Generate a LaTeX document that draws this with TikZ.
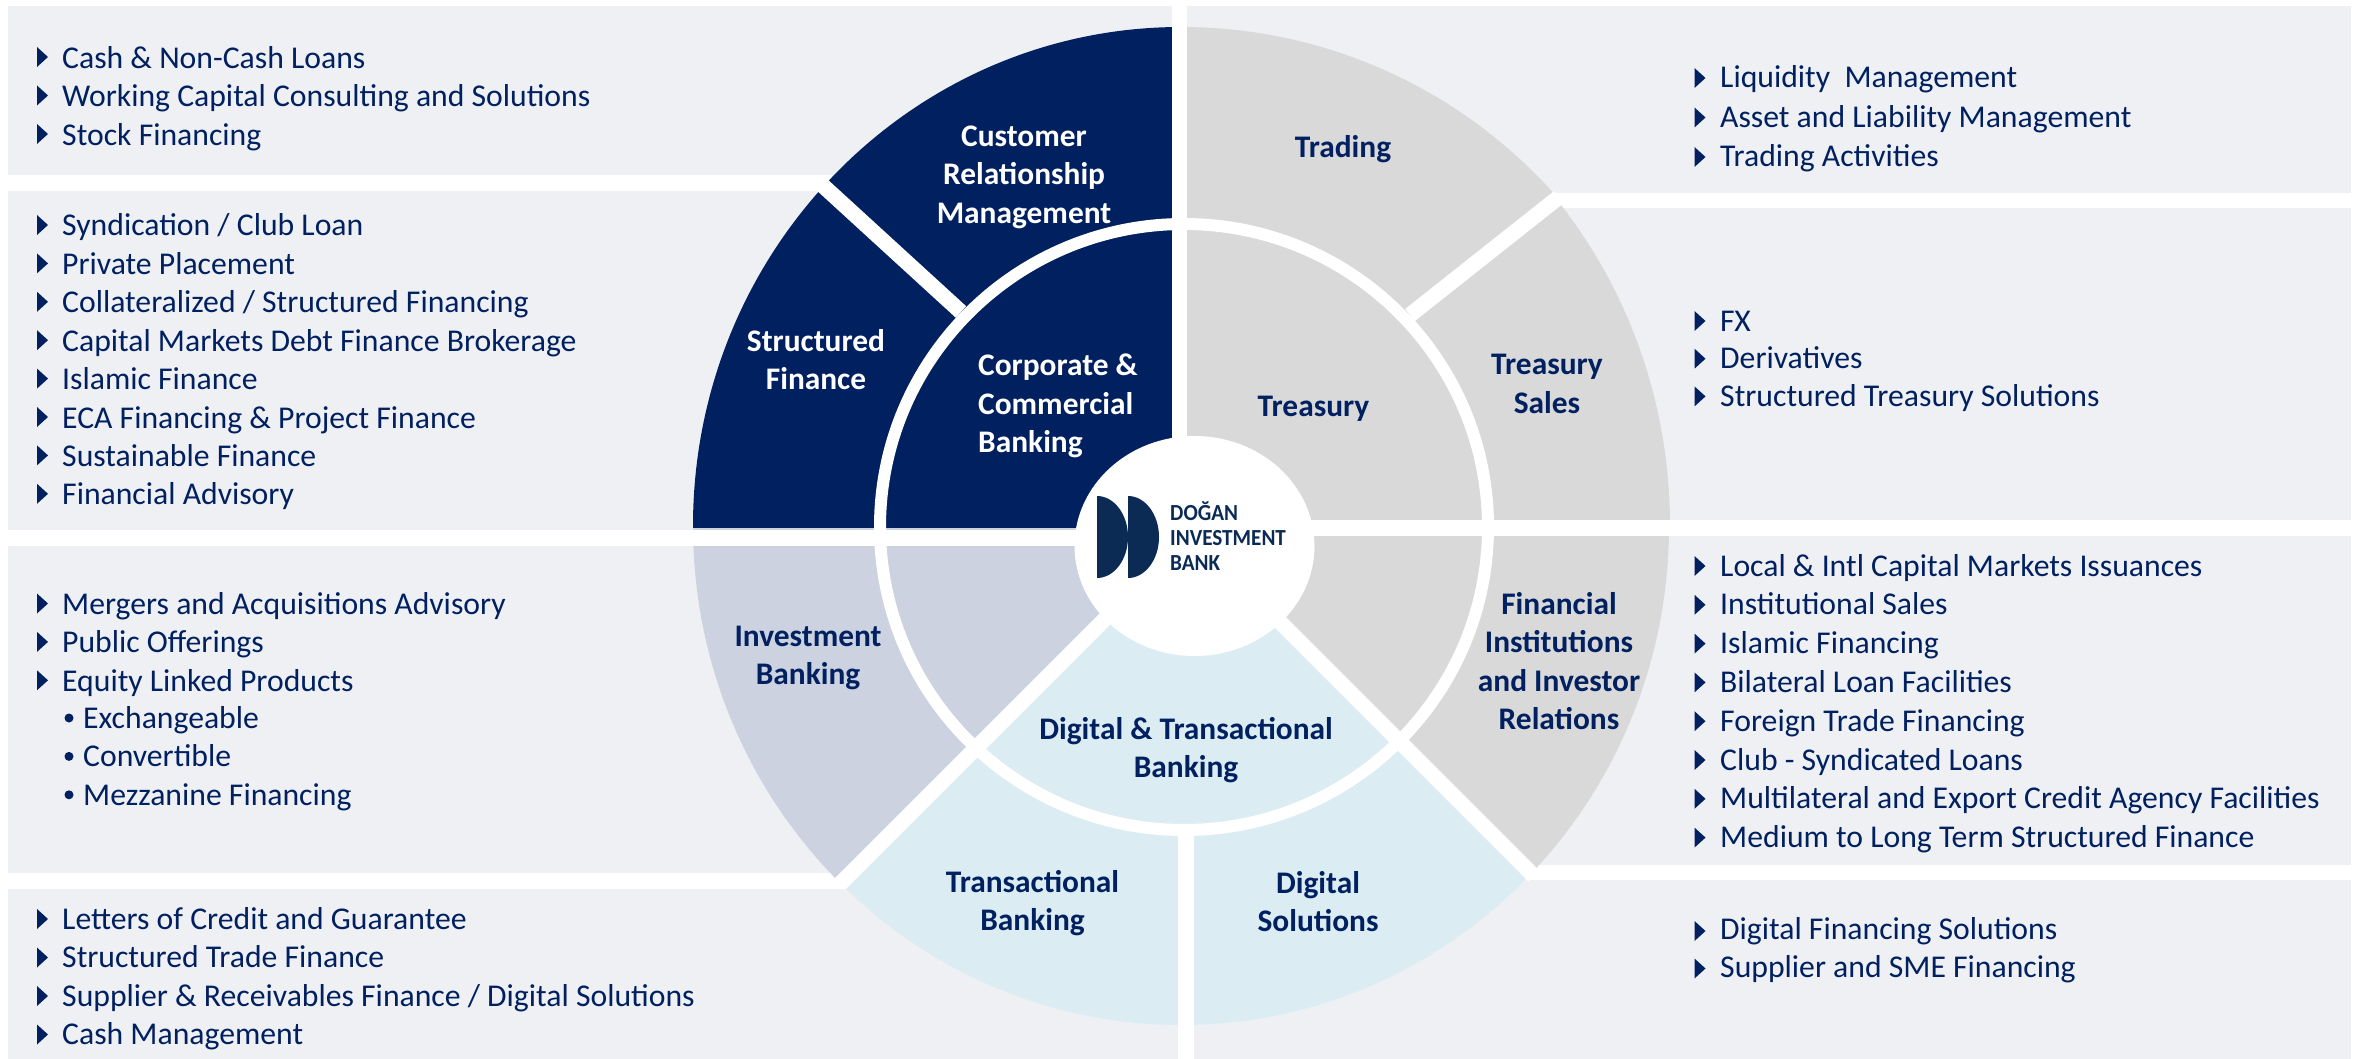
\documentclass[tikz,border=0pt]{standalone}
\usepackage{fontspec}
\setmainfont{Carlito}
\newfontfamily\logofont[FakeStretch=0.92]{Carlito}
\usepackage{tikz}
\definecolor{navy}{HTML}{002060}
\definecolor{logoblue}{HTML}{0B2B55}
\definecolor{panelgray}{HTML}{EFF0F4}
\definecolor{sectorgray}{HTML}{D9D9D9}
\definecolor{sectorslate}{HTML}{CCD2DF}
\definecolor{sectorsky}{HTML}{DBEDF3}
\tikzset{
%%%%%%%%%%  Node styles
itemtext/.style={anchor=west, inner sep=0pt, text=navy, text height=26pt, text depth=6pt,
                 font=\fontsize{31.7}{38.4}\selectfont},
sector_label/.style={inner sep=0pt, align=center, text=navy,
                 font=\fontsize{31.4}{38.4}\selectfont\bfseries},
logotext/.style={anchor=base west, inner sep=0pt, text=logoblue,
                 font=\fontsize{23}{25}\logofont\bfseries},
%%%%%%% Fill styles %%%%%%%%%%%%%%%
panel/.style={fill=panelgray},
%%%% white gaps of the wheel
spoke/.style={draw=white, line width=15.5pt},
%%%%%%% Small marks in the lists
pointer/.pic={\fill[navy] (-5.5,-10) -- (5.5,0) -- (-5.5,10) -- cycle;},
subdot/.pic={\fill[navy] (0,0) circle (4.5pt);},
halfdisc/.pic={\fill[logoblue] (0,-41)
	.. controls +(17.1,0) and +(0,-22.6) .. (31,0)
	.. controls +(0,22.6) and +(17.1,0) .. (0,41) -- cycle;}
}
\begin{document}
\begin{tikzpicture}[x=1pt,y=-1pt]
\useasboundingbox (0,0) rectangle (2361,1059);
%% panels behind the wheel
\fill[panel] (8,6) rectangle (1172,175);
\fill[panel] (8,191) rectangle (1172,530);
\fill[panel] (8,546) rectangle (1179,873);
\fill[panel] (8,889) rectangle (1179,1059);
\fill[panel] (1187,6) rectangle (2351,193);
\fill[panel] (1187,208) rectangle (2351,520);
\fill[panel] (1193,536) rectangle (2351,865);
\fill[panel] (1193,880) rectangle (2351,1059);
%% centres of the wheel
\coordinate (wheel) at (1181,526);
\coordinate (ring) at (1184,527);
\coordinate (hole) at (1194.5,546);
%%%%%%%%%%%%%%%%%%%%%%%%%%%%%%%%%%%%%%%%%%%%%%%%%%%%%%%
%% sectors
\begin{scope}
\clip (650,0) rectangle (1180,538);
\fill[navy] (wheel) ellipse [x radius=488pt, y radius=499pt];
\end{scope}
\begin{scope}
\clip (1180,0) -- (1800,0) -- (1800,6) -- (1410,315) -- (1180,530) -- cycle;
\fill[sectorgray] (wheel) ellipse [x radius=500pt, y radius=499pt];
\end{scope}
\begin{scope}
\clip (1800,6) -- (1410,315) -- (1180,530) -- (1800,530) -- cycle;
\fill[sectorgray] (wheel) ellipse [x radius=489pt, y radius=510pt];
\end{scope}
\begin{scope}
\clip (1192,528) -- (1800,528) -- (1800,1140) -- cycle;
\fill[sectorgray] (wheel) ellipse [x radius=488pt, y radius=499pt];
\end{scope}
\begin{scope}
\clip (1192,528) -- (1800,1140) -- (560,1140) -- cycle;
\fill[sectorsky] (wheel) ellipse [x radius=488pt, y radius=499pt];
\end{scope}
\begin{scope}
\clip (1192,528) -- (560,1160) -- (560,528) -- cycle;
\fill[sectorslate] (wheel) ellipse [x radius=488pt, y radius=499pt];
\end{scope}
%%%%%%%%%%%%%%%%%%%%%%%%%%%%%%%%%%%%%%%%%%%%%%%%%%%%%%%
%% gaps between the sectors
\coordinate (gapnorth) at (1179.5,0);
\coordinate (gapsouth) at (1186,1059);
\coordinate (gapwest) at (680,538);
\coordinate (gapeast) at (1690,528);
\coordinate (hubnorth) at (1179.5,500);
\coordinate (hubsouth) at (1186,830);
\coordinate (hubwest) at (1150,538);
\coordinate (hubeast) at (1250,528);
\coordinate (nwout) at (820,183);
\coordinate (nwin) at (961,312);
\coordinate (neout) at (1559,197);
\coordinate (nein) at (1410,315);
\coordinate (seout) at (1534,876);
\coordinate (sein) at (1280,622);
\coordinate (swout) at (840,884);
\coordinate (swin) at (1105,619);
\draw[spoke] (gapnorth) -- (hubnorth);
\draw[spoke] (gapsouth) -- (hubsouth);
\draw[spoke] (gapwest) -- (hubwest);
\draw[spoke] (gapeast) -- (hubeast);
\draw[spoke] (nwout) -- (nwin);
\draw[spoke] (neout) -- (nein);
\draw[spoke] (seout) -- (sein);
\draw[spoke] (swout) -- (swin);
\draw[draw=white, line width=12pt] (ring) ellipse [x radius=304pt, y radius=303pt];
\fill[white] (hole) ellipse [x radius=120pt, y radius=110pt];
%%%%%%%%%%%%%%%%%%%%%%%%%%%%%%%%%%%%%%%%%%%%%%%%%%%%%%%
%% logo
\pic at (1097,537) {halfdisc};
\pic at (1128,537) {halfdisc};
\node[logotext] (logoa) at (1170,520) {DOĞAN};
\node[logotext] (logob) at (1170,545) {INVESTMENT};
\node[logotext] (logoc) at (1170,570) {BANK};
%%%%%%%%%%%%%%%%%%%%%%%%%%%%%%%%%%%%%%%%%%%%%%%%%%%%%%%
%% sector labels
\node[sector_label,text=white] (customer) at (1024,177) {Customer\\Relationship\\Management};
\node[sector_label,text=white] (structured) at (816,359.5) {Structured\\Finance};
\node[sector_label,text=white,align=left,anchor=west] (corporate) at (978,406) {Corporate \&\\Commercial\\Banking};
\node[sector_label] (trading) at (1343,149) {Trading};
\node[sector_label] (treasury) at (1313.5,409) {Treasury};
\node[sector_label] (treasurysales) at (1547,384) {Treasury\\Sales};
\node[sector_label] (institutions) at (1559,661) {Financial\\Institutions\\and Investor\\Relations};
\node[sector_label] (investment) at (808,658) {Investment\\Banking};
\node[sector_label] (digitaltrans) at (1186,750) {Digital \& Transactional\\Banking};
\node[sector_label] (transactional) at (1032.5,903) {Transactional\\Banking};
\node[sector_label] (digital) at (1318,901.5) {Digital\\Solutions};
%%%%%%%%%%%%%%%%%%%%%%%%%%%%%%%%%%%%%%%%%%%%%%%%%%%%%%%
%% lists on the left
\foreach \txt [count=\i from 0] in {Cash \& Non-Cash Loans,Working Capital Consulting and Solutions,Stock Financing} {
	\node[itemtext] (cash\i) at (62,{58.5+38.5*\i}) {\txt};
	\pic at (42.5,{57+38.5*\i}) {pointer};
}
\foreach \txt [count=\i from 0] in {Syndication / Club Loan,Private Placement,Collateralized / Structured Financing,Capital Markets Debt Finance Brokerage,Islamic Finance,ECA Financing \& Project Finance,Sustainable Finance,Financial Advisory} {
	\node[itemtext] (synd\i) at (62,{226+38.4*\i}) {\txt};
	\pic at (42.5,{225+38.4*\i}) {pointer};
}
\foreach \txt [count=\i from 0] in {Mergers and Acquisitions Advisory,Public Offerings,Equity Linked Products} {
	\node[itemtext] (merger\i) at (62,{604.5+38.4*\i}) {\txt};
	\pic at (42.5,{603.5+38.4*\i}) {pointer};
}
\foreach \txt [count=\i from 0] in {Exchangeable,Convertible,Mezzanine Financing} {
	\node[itemtext] (equity\i) at (83,{718.5+38.4*\i}) {\txt};
	\pic at (69,{718+38.4*\i}) {subdot};
}
\foreach \txt [count=\i from 0] in {Letters of Credit and Guarantee,Structured Trade Finance,Supplier \& Receivables Finance / Digital Solutions,Cash Management} {
	\node[itemtext] (letter\i) at (62,{919+38.5*\i}) {\txt};
	\pic at (42.5,{919+38.5*\i}) {pointer};
}
%% lists on the right
\foreach \txt [count=\i from 0] in {Liquidity~ Management,Asset and Liability Management,Trading Activities} {
	\node[itemtext] (liquid\i) at (1720,{78+39.5*\i}) {\txt};
	\pic at (1700,{78+39.5*\i}) {pointer};
}
\foreach \txt [count=\i from 0] in {FX,Derivatives,Structured Treasury Solutions} {
	\node[itemtext] (fx\i) at (1720,{321+37.7*\i}) {\txt};
	\pic at (1700,{321+37.7*\i}) {pointer};
}
\foreach \txt [count=\i from 0] in {Local \& Intl Capital Markets Issuances,Institutional Sales,Islamic Financing,Bilateral Loan Facilities,Foreign Trade Financing,Club - Syndicated Loans,Multilateral and Export Credit Agency Facilities,Medium to Long Term Structured Finance} {
	\node[itemtext] (local\i) at (1720,{566+38.8*\i}) {\txt};
	\pic at (1700,{566+38.8*\i}) {pointer};
}
\foreach \txt [count=\i from 0] in {Digital Financing Solutions,Supplier and SME Financing} {
	\node[itemtext] (supply\i) at (1720,{929.5+37.5*\i}) {\txt};
	\pic at (1700,{931+37.5*\i}) {pointer};
}
\end{tikzpicture}
\end{document}
